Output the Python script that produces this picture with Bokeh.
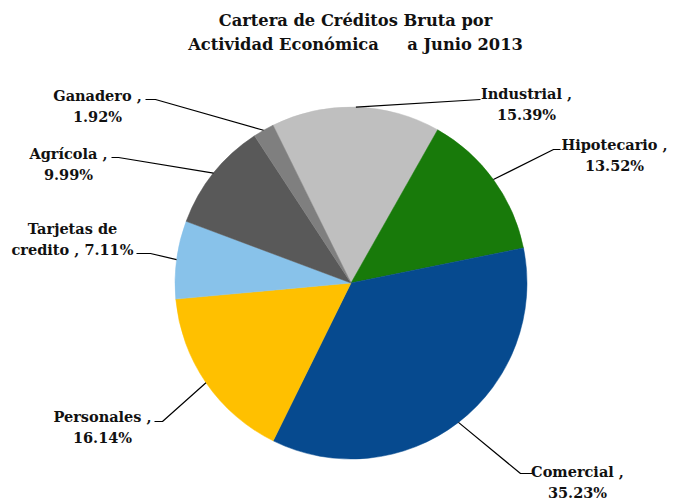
import numpy as np
from bokeh.plotting import figure
from bokeh.models import Range1d, ColumnDataSource
from bokeh.core.properties import value
from bokeh.embed import file_html
from bokeh.resources import INLINE

# ---- data ----
categories = ["Industrial", "Hipotecario", "Comercial", "Personales",
              "Tarjetas de credito", "Agrícola", "Ganadero"]
values = [15.39, 13.52, 35.23, 16.14, 7.11, 9.99, 1.92]
colors = ["#BFBFBF", "#187A0A", "#064A8F", "#FFC000", "#88C2EA", "#595959", "#7F7F7F"]
title_lines = ["Cartera de Créditos Bruta por",
               "Actividad Económica\u00a0\u00a0\u00a0\u00a0 a Junio 2013"]
wrap = {"Tarjetas de credito": ("Tarjetas de", "credito")}

# ---- layout (pixel space, y up) ----
W, H = 672, 502
def sx(x): return x
def sy(y): return H - y

cx, cy, R = sx(350.5), sy(282.5), 176.0
first_angle = -26.3  # degrees clockwise from 12 o'clock

# label centres (screen) and line centres
label_pos = [(526, 93), (614, 144), (577, 471), (102, 416), (72, 228), (68, 153), (97, 95)]
line_gap = 21
# leader: label anchor and elbow (screen)
leader_anchor = [(480, 99), (560, 149), (532, 473), (154, 421), (136, 253), (111, 157), (145, 99)]
leader_elbow = [(480, 99), (553, 149), (520, 473), (162, 421), (150, 253), (118, 157), (155, 99)]

vals = np.array(values, dtype=float)
frac = vals / vals.sum()
cum = np.concatenate([[0.0], np.cumsum(frac)]) * 360.0 + first_angle
theta_start = cum[:-1]
theta_end = cum[1:]
start_b = np.deg2rad(90 - theta_start)
end_b = np.deg2rad(90 - theta_end)
mid = np.deg2rad((theta_start + theta_end) / 2)

p = figure(width=W, height=H, output_backend="svg", toolbar_location=None,
           x_range=Range1d(0, W), y_range=Range1d(0, H), min_border=0)
p.axis.visible = False
p.grid.visible = False
p.outline_line_color = None
p.background_fill_color = "white"

src = ColumnDataSource(dict(start=start_b, end=end_b, color=colors))
p.wedge(x=cx, y=cy, radius=R, start_angle="start", end_angle="end",
        direction="clock", fill_color="color", line_color="color", line_width=0.5,
        source=src)

# leader lines
xs, ys = [], []
for i in range(len(values)):
    ex = cx + R * np.sin(mid[i])
    ey = cy + R * np.cos(mid[i])
    ax, ay = leader_anchor[i]
    bx, by = leader_elbow[i]
    xs.append([sx(ax), sx(bx), ex])
    ys.append([sy(ay), sy(by), ey])
p.multi_line(xs=xs, ys=ys, line_color="black", line_width=1.2)

# labels
font = value("DejaVu Serif")
tx, ty, tt = [], [], []
for i, cat in enumerate(categories):
    a, b = wrap.get(cat, (cat, ""))
    pct = f"{values[i]:.2f}%"
    if b:
        l1, l2 = a, f"{b} , {pct}"
    else:
        l1, l2 = f"{a} ,", pct
    lx, ly = label_pos[i]
    tx += [sx(lx), sx(lx)]
    ty += [sy(ly), sy(ly + line_gap)]
    tt += [l1, l2]
p.text(x=tx, y=ty, text=tt, text_font=font, text_font_style="bold",
       text_font_size="14.5px", text_align="center", text_baseline="middle",
       text_color="#111111")

# title
p.text(x=[sx(355), sx(355)], y=[sy(20), sy(44)], text=title_lines, text_font=font,
       text_font_style="bold", text_font_size="16.3px", text_align="center",
       text_baseline="middle", text_color="#111111")

open("out.html", "w").write(file_html(p, INLINE))
